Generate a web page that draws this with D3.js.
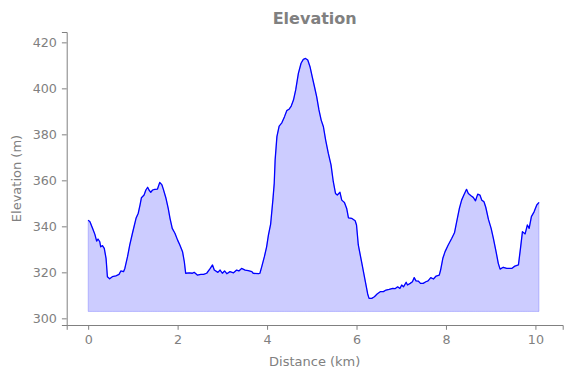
<!DOCTYPE html>
<html>
<head>
<meta charset="utf-8">
<script src="https://cdn.jsdelivr.net/npm/d3@7"></script>
<style>
  html, body { margin: 0; padding: 0; background: #fff; }
  svg { display: block; font-family: "DejaVu Sans", sans-serif; }
</style>
</head>
<body>
<svg id="chart" width="571" height="378"></svg>
<script>
const chartTitle = "Elevation";
const xLabel = "Distance (km)";
const yLabel = "Elevation (m)";
const xTicks = [0, 2, 4, 6, 8, 10];
const yTicks = [300, 320, 340, 360, 380, 400, 420];
const baseElevation = 303;

const distanceKm = [
  0.00, 0.04, 0.10, 0.15, 0.19, 0.22, 0.26, 0.28, 0.32, 0.36, 0.40, 0.43, 0.48, 0.54, 0.62, 0.69, 0.73, 0.79, 0.82, 0.88,
  0.93, 0.99, 1.07, 1.12, 1.16, 1.19, 1.25, 1.29, 1.33, 1.36, 1.40, 1.44, 1.49, 1.55, 1.60, 1.65, 1.68, 1.74, 1.79, 1.83,
  1.88, 1.94, 2.00, 2.05, 2.11, 2.15, 2.18, 2.26, 2.33, 2.37, 2.44, 2.52, 2.58, 2.65, 2.73, 2.78, 2.82, 2.90, 2.95, 3.00,
  3.05, 3.10, 3.17, 3.25, 3.32, 3.37, 3.43, 3.51, 3.58, 3.66, 3.69, 3.81, 3.84, 3.88, 3.94, 3.99, 4.03, 4.08, 4.13, 4.16,
  4.18, 4.22, 4.27, 4.33, 4.39, 4.44, 4.49, 4.54, 4.59, 4.64, 4.70, 4.76, 4.81, 4.86, 4.91, 4.96, 5.01, 5.06, 5.11, 5.16,
  5.21, 5.26, 5.31, 5.37, 5.43, 5.48, 5.53, 5.57, 5.63, 5.67, 5.73, 5.78, 5.82, 5.89, 5.97, 6.00, 6.04, 6.12, 6.19, 6.25,
  6.28, 6.34, 6.40, 6.46, 6.53, 6.60, 6.66, 6.73, 6.81, 6.86, 6.92, 6.97, 7.01, 7.05, 7.11, 7.14, 7.20, 7.25, 7.29, 7.33,
  7.38, 7.43, 7.49, 7.55, 7.60, 7.66, 7.72, 7.78, 7.85, 7.88, 7.93, 7.98, 8.05, 8.13, 8.19, 8.24, 8.30, 8.35, 8.40, 8.46,
  8.50, 8.56, 8.61, 8.66, 8.71, 8.76, 8.80, 8.85, 8.89, 8.95, 9.01, 9.06, 9.12, 9.17, 9.21, 9.28, 9.36, 9.47, 9.54, 9.62,
  9.67, 9.71, 9.77, 9.82, 9.86, 9.91, 9.97, 10.03, 10.08
];

const elevationM = [
  342.7, 342.0, 339.1, 336.5, 333.6, 334.5, 333.3, 331.1, 331.6, 330.4, 326.1, 318.1, 317.2, 318.1, 318.5, 319.1, 320.6, 320.3, 321.7, 326.8,
  331.9, 337.0, 343.5, 345.7, 349.3, 352.4, 353.6, 355.8, 357.0, 355.8, 354.8, 355.8, 356.1, 356.2, 359.1, 358.0, 356.2, 352.2, 347.8, 343.5,
  339.1, 337.0, 334.0, 331.9, 329.0, 324.6, 319.6, 319.8, 319.6, 320.0, 318.8, 319.1, 319.1, 319.6, 321.7, 323.2, 321.0, 320.0, 321.0, 319.6,
  320.6, 319.4, 320.3, 319.8, 321.0, 320.6, 321.7, 321.0, 320.7, 320.3, 319.6, 319.4, 319.6, 322.4, 326.8, 331.1, 336.2, 341.0, 351.5, 358.7,
  368.8, 379.0, 383.6, 385.0, 387.7, 390.3, 390.9, 392.3, 394.9, 399.3, 406.5, 410.9, 412.6, 413.0, 412.3, 409.4, 405.0, 400.7, 396.3, 390.6,
  386.2, 383.3, 377.5, 371.7, 366.7, 359.5, 354.3, 353.6, 354.8, 351.4, 350.4, 347.8, 343.7, 343.5, 342.4, 340.6, 331.9, 323.9, 316.7, 310.6,
  308.7, 308.7, 309.4, 310.6, 311.6, 311.6, 312.3, 312.6, 313.0, 312.9, 313.7, 313.0, 314.5, 313.7, 315.7, 314.5, 315.2, 315.9, 317.7, 316.3,
  316.2, 315.2, 315.2, 315.9, 316.3, 317.7, 317.1, 318.4, 318.8, 321.0, 326.1, 329.0, 331.9, 334.8, 337.2, 342.0, 347.8, 351.4, 353.6, 356.1,
  354.3, 353.3, 352.6, 351.1, 354.0, 353.6, 351.4, 350.7, 348.3, 343.0, 339.1, 334.8, 329.0, 323.9, 321.4, 322.2, 321.7, 321.7, 322.7, 323.2,
  331.1, 337.7, 336.7, 340.6, 339.1, 344.2, 346.3, 349.3, 350.4
];

const points = distanceKm.map((d, i) => ({ d, e: elevationM[i] }));

const W = 571, H = 378;
const margin = { top: 32, right: 8.3, bottom: 53, left: 66.7 };
const gray = "#808080";

const svg = d3.select("#chart");

const x = d3.scaleLinear().domain([-0.48, 10.61]).range([margin.left, W - margin.right]);
const y = d3.scaleLinear().domain([297.1, 424.5]).range([H - margin.bottom, margin.top]);

// filled area
const area = d3.area()
  .x(p => x(p.d))
  .y0(y(baseElevation))
  .y1(p => y(p.e));

svg.append("path")
  .datum(points)
  .attr("d", area)
  .attr("fill", "rgba(0,0,255,0.2)")
  .attr("stroke", "rgba(0,0,255,0.2)")
  .attr("stroke-width", 1);

const line = d3.line().x(p => x(p.d)).y(p => y(p.e));
svg.append("path")
  .datum(points)
  .attr("d", line)
  .attr("fill", "none")
  .attr("stroke", "#0000ff")
  .attr("stroke-width", 1.3)
  .attr("stroke-linejoin", "round");

// axes
const xAxis = svg.append("g")
  .attr("transform", `translate(0,${H - margin.bottom})`)
  .call(d3.axisBottom(x).tickValues(xTicks).tickFormat(d3.format("d")).tickSizeOuter(0).tickSize(4.8).tickPadding(5));

const yAxis = svg.append("g")
  .attr("transform", `translate(${margin.left},0)`)
  .call(d3.axisLeft(y).tickValues(yTicks).tickFormat(d3.format("d")).tickSizeOuter(0).tickSize(4.8).tickPadding(5));

[xAxis, yAxis].forEach(g => {
  g.select(".domain").attr("stroke", gray).attr("stroke-width", 1);
  g.selectAll(".tick line").attr("stroke", gray).attr("stroke-width", 1);
  g.selectAll(".tick text").attr("fill", gray).style("font-size", "12.7px").style("font-family", "DejaVu Sans, sans-serif");
});

// title
svg.append("text")
  .attr("x", (margin.left + W - margin.right) / 2)
  .attr("y", 24)
  .attr("text-anchor", "middle")
  .attr("fill", gray)
  .style("font-size", "16px")
  .style("font-weight", "bold")
  .text(chartTitle);

svg.append("text")
  .attr("x", (margin.left + W - margin.right) / 2)
  .attr("y", 366)
  .attr("text-anchor", "middle")
  .attr("fill", gray)
  .style("font-size", "13px")
  .text(xLabel);

svg.append("text")
  .attr("transform", `translate(21,${(margin.top + H - margin.bottom) / 2}) rotate(-90)`)
  .attr("text-anchor", "middle")
  .attr("fill", gray)
  .style("font-size", "13px")
  .text(yLabel);
</script>
</body>
</html>
